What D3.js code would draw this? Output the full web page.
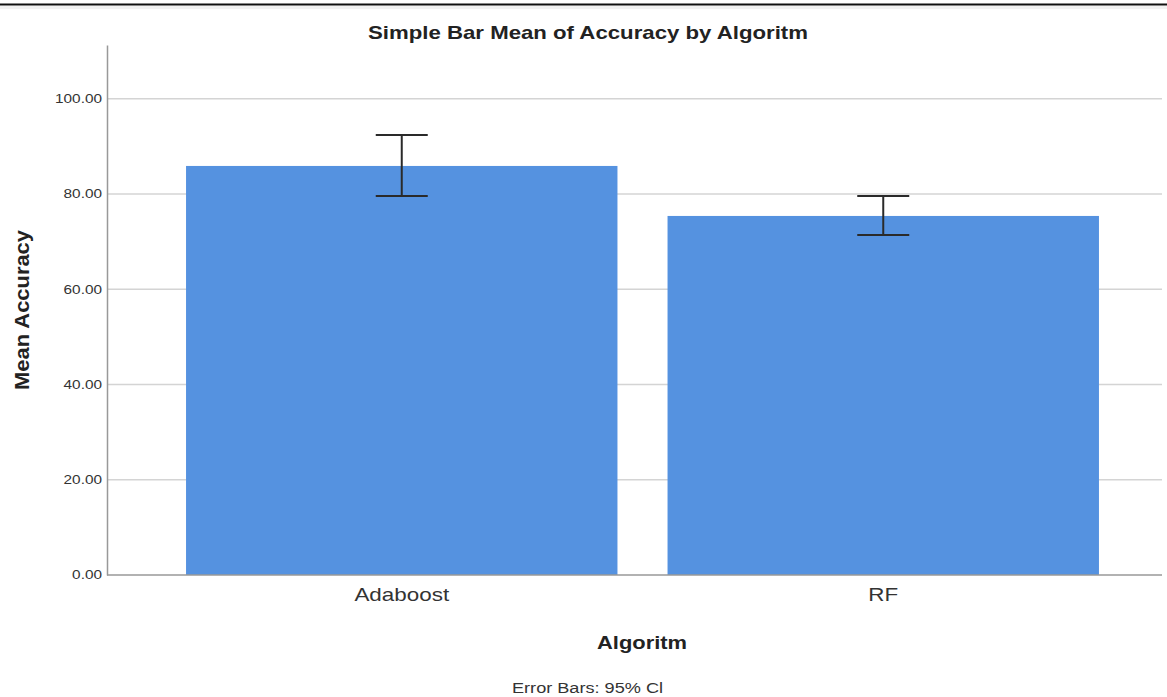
<!DOCTYPE html>
<html><head><meta charset="utf-8">
<script src="https://cdn.jsdelivr.net/npm/d3@7"></script>
<style>body{margin:0;background:#fff}svg{display:block;font-family:"Liberation Sans",Arial,sans-serif}</style>
</head><body>
<svg id="c" width="1167" height="697"></svg>
<script>
const categories = ["Adaboost", "RF"];
const meanValues = [85.9, 75.4];
const ciLower = [79.6, 71.4];
const ciUpper = [92.4, 79.6];
const yTicks = [0, 20, 40, 60, 80, 100];

const svg = d3.select("#c");
const W = 1167, H = 697;
const plotLeft = 107, plotRight = 1162, plotTop = 45, plotBottom = 575;

const y = d3.scaleLinear().domain([0, 111.3]).range([plotBottom, plotTop]);
const x = d3.scaleBand().domain(categories).range([161, 1124]).paddingInner(0.104).paddingOuter(0.052);

function stretch(sel, factor) {
  sel.each(function() {
    const L = this.getComputedTextLength();
    d3.select(this).attr("textLength", L * factor).attr("lengthAdjust", "spacingAndGlyphs");
  });
}

// top border line
svg.append("line").attr("x1", 0).attr("x2", W).attr("y1", 4.5).attr("y2", 4.5).attr("stroke", "#111").attr("stroke-width", 2);
svg.append("rect").attr("x", 0).attr("y", 6).attr("width", W).attr("height", 3).attr("fill", "#f2f2f2");

// gridlines
svg.append("g").selectAll("line").data(yTicks.filter(d => d > 0)).join("line")
  .attr("x1", plotLeft).attr("x2", plotRight)
  .attr("y1", d => y(d)).attr("y2", d => y(d))
  .attr("stroke", "#d4d4d4").attr("stroke-width", 1.5);

// bars
svg.append("g").selectAll("rect").data(categories).join("rect")
  .attr("x", d => x(d)).attr("width", x.bandwidth())
  .attr("y", (d, i) => y(meanValues[i])).attr("height", (d, i) => y(0) - y(meanValues[i]))
  .attr("fill", "#5592e0");

// error bars
const capHalf = 26;
const eb = svg.append("g").attr("stroke", "#2a2a2a").attr("stroke-width", 2);
categories.forEach((c, i) => {
  const cx = x(c) + x.bandwidth() / 2;
  eb.append("line").attr("x1", cx).attr("x2", cx).attr("y1", y(ciUpper[i])).attr("y2", y(ciLower[i]));
  eb.append("line").attr("x1", cx - capHalf).attr("x2", cx + capHalf).attr("y1", y(ciUpper[i])).attr("y2", y(ciUpper[i]));
  eb.append("line").attr("x1", cx - capHalf).attr("x2", cx + capHalf).attr("y1", y(ciLower[i])).attr("y2", y(ciLower[i]));
});

// y axis
const yAxis = d3.axisLeft(y).tickValues(yTicks).tickFormat(d3.format(".2f")).tickSize(0).tickPadding(5);
const gy = svg.append("g").attr("transform", `translate(${plotLeft},0)`).call(yAxis);
gy.select(".domain").attr("stroke", "#999").attr("stroke-width", 1.5);
gy.selectAll("text").attr("font-size", 12).attr("fill", "#333").attr("font-family", "Liberation Sans, Arial, sans-serif");
stretch(gy.selectAll("text"), 1.28);

// x axis
const xAxis = d3.axisBottom(x).tickSize(0).tickPadding(13);
const gx = svg.append("g").attr("transform", `translate(0,${plotBottom})`).call(xAxis);
gx.select(".domain").remove();
svg.append("line").attr("x1", plotLeft).attr("x2", plotRight).attr("y1", plotBottom).attr("y2", plotBottom).attr("stroke", "#999").attr("stroke-width", 1.5);
gx.selectAll("text").attr("font-size", 19).attr("fill", "#333").attr("font-family", "Liberation Sans, Arial, sans-serif");
stretch(gx.selectAll("text"), 1.18);

// titles
const t1 = svg.append("text").attr("x", 588).attr("y", 39).attr("text-anchor", "middle")
  .attr("font-size", 19).attr("font-weight", "bold").attr("fill", "#222")
  .text("Simple Bar Mean of Accuracy by Algoritm");
t1.attr("textLength", 440).attr("lengthAdjust", "spacingAndGlyphs");
svg.append("text").attr("x", 642).attr("y", 649).attr("text-anchor", "middle")
  .attr("font-size", 19).attr("font-weight", "bold").attr("fill", "#222").text("Algoritm")
  .attr("textLength", 90).attr("lengthAdjust", "spacingAndGlyphs");
svg.append("text").attr("x", 587.5).attr("y", 693).attr("text-anchor", "middle")
  .attr("font-size", 14).attr("fill", "#333").text("Error Bars: 95% Cl")
  .attr("textLength", 151).attr("lengthAdjust", "spacingAndGlyphs");
svg.append("text").attr("transform", "translate(29,310) rotate(-90)").attr("text-anchor", "middle")
  .attr("font-size", 20).attr("font-weight", "bold").attr("fill", "#222").text("Mean Accuracy")
  .attr("textLength", 160).attr("lengthAdjust", "spacingAndGlyphs");
</script>
</body></html>
